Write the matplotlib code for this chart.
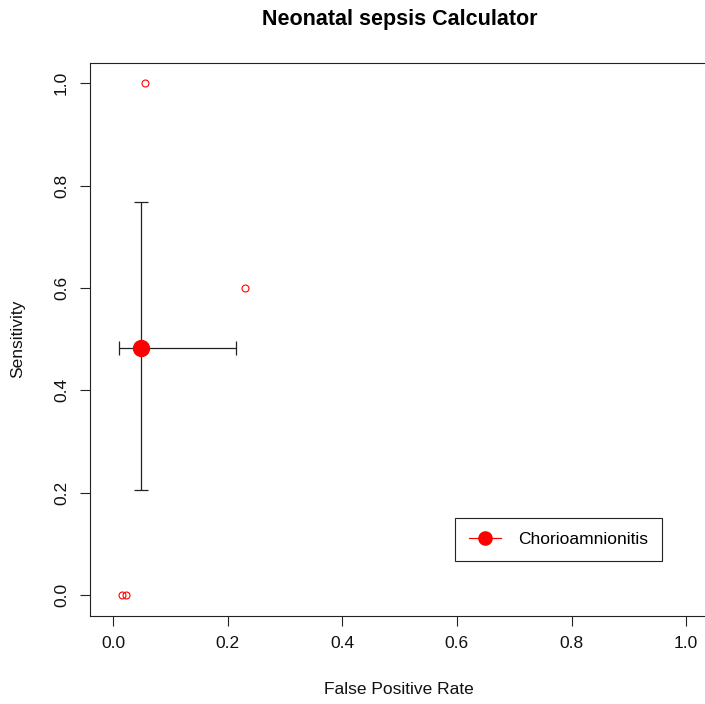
import numpy as np
import matplotlib
matplotlib.use("Agg")
import matplotlib.pyplot as plt

plt.rcParams['font.family'] = ['Liberation Sans', 'DejaVu Sans']

# study points (false positive rate, sensitivity)
study_fpr = [0.055, 0.230, 0.015, 0.023]
study_sens = [1.0, 0.6, 0.0, 0.0]

# pooled estimate with confidence intervals
pooled_fpr = 0.048
pooled_sens = 0.482
fpr_ci = [0.0105, 0.2135]
sens_ci = [0.2055, 0.7685]

series_name = "Chorioamnionitis"
ticks = [0.0, 0.2, 0.4, 0.6, 0.8, 1.0]
tick_labels = ["0.0", "0.2", "0.4", "0.6", "0.8", "1.0"]

W, H = 705, 704
fig = plt.figure(figsize=(W / 100, H / 100), dpi=100)
left, right, top, bottom = 90.3, 709.0, 62.7, 615.7
ax = fig.add_axes([left / W, 1 - bottom / H, (right - left) / W, (bottom - top) / H])

edge = '#222222'
fs = 12.5
ax.errorbar([pooled_fpr], [pooled_sens],
            xerr=[[pooled_fpr - fpr_ci[0]], [fpr_ci[1] - pooled_fpr]],
            yerr=[[pooled_sens - sens_ci[0]], [sens_ci[1] - pooled_sens]],
            fmt='none', ecolor=edge, elinewidth=0.9, capsize=4.7, capthick=0.9, zorder=2)
ax.plot(study_fpr, study_sens, 'o', mfc='none', mec='red', ms=5, mew=0.8, zorder=3)
ax.plot([pooled_fpr], [pooled_sens], 'o', color='red', ms=11.5, zorder=3)

# R-style 4% padding; right edge falls just outside the canvas
ax.set_xlim(-0.04, 1.04)
ax.set_ylim(-0.04, 1.04)
ax.set_xticks(ticks)
ax.set_xticklabels(tick_labels)
ax.set_yticks(ticks)
ax.set_yticklabels(tick_labels, rotation=90, va='center')

ax.tick_params(direction='out', length=7.3, width=0.8, color=edge, labelsize=fs,
               labelcolor='#111111')
ax.tick_params(axis='x', pad=7.5)
ax.tick_params(axis='y', pad=8)
for s in ax.spines.values():
    s.set_linewidth(0.8)
    s.set_color(edge)

fig.text(400 / W, 1 - 20 / H, "Neonatal sepsis Calculator", ha='center', va='center',
         fontsize=15.5, fontweight='bold')
fig.text(399 / W, 1 - 690 / H, "False Positive Rate", ha='center', va='center',
         fontsize=fs, color='#111111')
fig.text(18 / W, 1 - 339 / H, "Sensitivity", ha='center', va='center', rotation=90,
         fontsize=fs, color='#111111')

handle, = ax.plot([], [], '-o', color='red', ms=9.5, lw=0.9)
leg = ax.legend([handle], [series_name], loc='lower right',
                bbox_to_anchor=(662 / W, 1 - 561 / H), bbox_transform=fig.transFigure,
                borderaxespad=0, fancybox=False, framealpha=1, fontsize=fs,
                handlelength=1.85, borderpad=0.8, handletextpad=1.0)
leg.get_frame().set_edgecolor(edge)
leg.get_frame().set_linewidth(0.8)

fig.savefig("out.png", dpi=100)
